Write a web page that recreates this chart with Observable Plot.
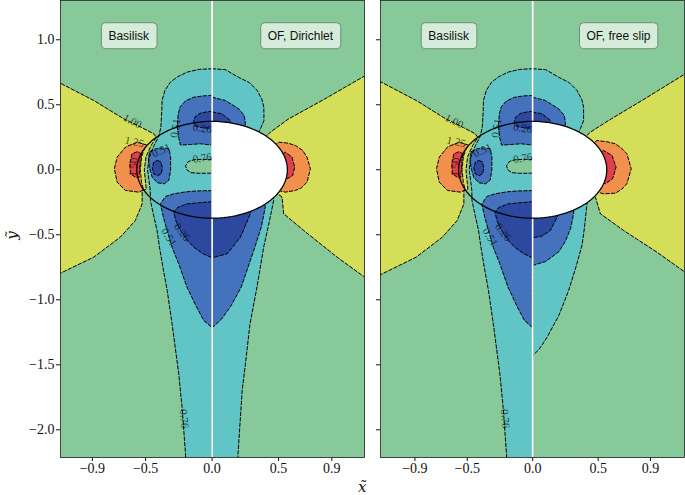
<!DOCTYPE html>
<html><head><meta charset="utf-8">
<script src="https://cdn.jsdelivr.net/npm/d3@7"></script>
<script src="https://cdn.jsdelivr.net/npm/@observablehq/plot@0.6"></script>
<style>
html,body{margin:0;padding:0;background:#fff;}
#fig{position:relative;width:685px;height:495px;overflow:hidden;background:#fff;}
#fig svg{position:absolute;top:0;}
#fig svg [aria-label^="x-axis"] text, #fig svg [aria-label^="y-axis"] text{font-family:"Liberation Serif" !important;font-size:14px;}
.axlab{position:absolute;font-family:"DejaVu Serif";font-style:italic;font-size:15px;color:#111;line-height:1;padding:2px;}
</style></head><body><div id="fig"></div>
<script>
// ---------- tick values ----------
const xTicks = [-0.9, -0.5, 0, 0.5, 0.9];
const yTicks = [-2.0, -1.5, -1.0, -0.5, 0.0, 0.5, 1.0];

// ---------- digitised contour regions (data units) ----------
// Basilisk half (x<0), identical in both panels
const basYellow = [[-1.17,0.681],[-0.89,0.533],[-0.665,0.392],[-0.53,0.325],[-0.439,0.277],[-0.42,0.25],[-0.46,0.185],[-0.497,0.1],[-0.51,0],[-0.5,-0.1],[-0.495,-0.15],[-0.526,-0.159],[-0.526,-0.262],[-0.577,-0.39],[-0.69,-0.518],[-0.89,-0.672],[-1.17,-0.81],[-1.4,-0.81],[-1.4,0.681]];
const basOrange = [[-0.49,0.19],[-0.564,0.212],[-0.652,0.174],[-0.714,0.097],[-0.735,0.008],[-0.714,-0.095],[-0.652,-0.159],[-0.552,-0.172],[-0.515,-0.155],[-0.53,-0.1],[-0.54,0],[-0.53,0.1],[-0.51,0.16]];
const basRed = [[-0.53,0.12],[-0.56,0.14],[-0.602,0.123],[-0.619,0.046],[-0.614,-0.031],[-0.577,-0.057],[-0.55,-0.06],[-0.545,0],[-0.54,0.08]];
const basCyan = [[0,0.777],[-0.1,0.772],[-0.188,0.751],[-0.26,0.715],[-0.314,0.674],[-0.355,0.61],[-0.376,0.533],[-0.378,0.46],[-0.385,0.33],[-0.4,0.26],[-0.44,0.18],[-0.475,0.09],[-0.485,0],[-0.475,-0.08],[-0.465,-0.16],[-0.464,-0.236],[-0.44,-0.35],[-0.414,-0.467],[-0.395,-0.6],[-0.37,-0.75],[-0.338,-0.928],[-0.301,-1.185],[-0.251,-1.569],[-0.226,-1.826],[-0.2,-2.185],[-0.197,-2.4],[0,-2.4]];
const basGreenIsland = [[0,0.08],[-0.07,0.08],[-0.138,0.077],[-0.18,0.062],[-0.2,0.03],[-0.19,0.0],[-0.16,-0.022],[-0.1,-0.027],[0,-0.026]];
const basBlueTop = [[0,0.572],[-0.07,0.568],[-0.138,0.558],[-0.2,0.53],[-0.24,0.485],[-0.255,0.43],[-0.262,0.33],[-0.25,0.24],[-0.238,0.19],[-0.16,0.195],[-0.088,0.2],[0,0.19]];
const basDarkTop = [[0,0.45],[-0.04,0.445],[-0.09,0.435],[-0.13,0.405],[-0.14,0.37],[-0.125,0.335],[-0.06,0.322],[0,0.32]];
const basBlueBlob = [[-0.469,0.14],[-0.43,0.16],[-0.37,0.168],[-0.325,0.162],[-0.312,0.1],[-0.312,0.0],[-0.325,-0.08],[-0.36,-0.108],[-0.41,-0.1],[-0.45,-0.06],[-0.472,0.02],[-0.478,0.09]];
const basDarkBlob = [[-0.41,0.072],[-0.385,0.06],[-0.374,0.015],[-0.382,-0.03],[-0.41,-0.046],[-0.44,-0.03],[-0.45,0.015],[-0.438,0.06]];
const basBlueLow = [[0,-0.16],[-0.12,-0.163],[-0.2,-0.17],[-0.289,-0.185],[-0.35,-0.205],[-0.389,-0.262],[-0.365,-0.37],[-0.338,-0.467],[-0.3,-0.6],[-0.251,-0.723],[-0.19,-0.9],[-0.12,-1.05],[-0.063,-1.159],[0,-1.215]];
const basDarkLow = [[0,-0.245],[-0.188,-0.262],[-0.26,-0.29],[-0.289,-0.326],[-0.27,-0.4],[-0.238,-0.467],[-0.19,-0.54],[-0.138,-0.595],[-0.07,-0.645],[0,-0.677]];

// OpenFOAM, Dirichlet (right half of left panel)
const dirYellow = [[1.4,0.725],[1.153,0.725],[0.827,0.533],[0.576,0.392],[0.438,0.289],[0.4,0.25],[0.3,0.15],[0.3,-0.15],[0.5,-0.19],[0.526,-0.21],[0.538,-0.338],[0.689,-0.467],[0.94,-0.672],[1.147,-0.826],[1.4,-0.826]];
const dirOrange = [[0.45,0.1],[0.48,0.195],[0.501,0.212],[0.57,0.205],[0.626,0.187],[0.68,0.15],[0.714,0.097],[0.739,0.008],[0.714,-0.095],[0.67,-0.14],[0.626,-0.159],[0.551,-0.172],[0.5,-0.16],[0.45,-0.1]];
const dirRed = [[0.5,0.1],[0.551,0.135],[0.601,0.097],[0.621,0.02],[0.606,-0.044],[0.564,-0.069],[0.5,-0.05]];
const dirCyanTop = [[0,0.777],[0.1,0.77],[0.198,0.712],[0.28,0.67],[0.339,0.61],[0.375,0.54],[0.389,0.482],[0.39,0.379],[0.364,0.315],[0.3,0.2],[0,0.2]];
const dirBlueTop = [[0,0.558],[0.1,0.533],[0.2,0.469],[0.24,0.42],[0.25,0.366],[0.24,0.2],[0,0.2]];
const dirDarkTop = [[0,0.445],[0.073,0.431],[0.137,0.379],[0.15,0.3],[0,0.3]];
const dirCyanLow = [[0,-0.2],[0.45,-0.15],[0.463,-0.236],[0.43,-0.4],[0.388,-0.595],[0.338,-0.9],[0.285,-1.185],[0.25,-1.5],[0.226,-1.7],[0.195,-2.185],[0.19,-2.4],[0,-2.4]];
const dirBlueLow = [[0,-0.2],[0.38,-0.2],[0.4,-0.287],[0.37,-0.44],[0.32,-0.6],[0.22,-0.9],[0.14,-1.05],[0.07,-1.15],[0,-1.215]];
const dirDarkLow = [[0,-0.2],[0.27,-0.2],[0.288,-0.338],[0.213,-0.518],[0.113,-0.646],[0,-0.677]];

// OpenFOAM, free slip (right half of right panel)
const fsYellow = [[1.4,0.738],[1.166,0.738],[0.835,0.533],[0.58,0.379],[0.44,0.289],[0.4,0.25],[0.3,0.15],[0.3,-0.15],[0.46,-0.2],[0.479,-0.21],[0.517,-0.338],[0.695,-0.467],[0.95,-0.634],[1.165,-0.788],[1.4,-0.788]];
const fsOrange = [[0.44,0.1],[0.47,0.21],[0.491,0.225],[0.57,0.215],[0.631,0.2],[0.68,0.165],[0.72,0.123],[0.753,0.008],[0.72,-0.108],[0.68,-0.15],[0.631,-0.18],[0.542,-0.185],[0.49,-0.17],[0.44,-0.1]];
const fsRed = [[0.5,0.12],[0.542,0.148],[0.606,0.11],[0.637,0.02],[0.611,-0.069],[0.555,-0.108],[0.5,-0.08]];
const fsCyanTop = [[0,0.777],[0.1,0.77],[0.198,0.712],[0.28,0.67],[0.339,0.61],[0.375,0.54],[0.389,0.482],[0.389,0.379],[0.364,0.315],[0.3,0.2],[0,0.2]];
const fsBlueTop = [[0,0.558],[0.097,0.533],[0.198,0.469],[0.24,0.42],[0.25,0.366],[0.24,0.2],[0,0.2]];
const fsDarkTop = [[0,0.443],[0.072,0.431],[0.135,0.379],[0.15,0.3],[0,0.3]];
const fsCyanLow = [[0,-0.2],[0.42,-0.2],[0.415,-0.262],[0.395,-0.45],[0.377,-0.58],[0.33,-0.75],[0.275,-0.928],[0.2,-1.12],[0.11,-1.288],[0.05,-1.38],[0,-1.43]];
const fsBlueLow = [[0,-0.2],[0.31,-0.2],[0.313,-0.338],[0.29,-0.45],[0.25,-0.55],[0.2,-0.63],[0.1,-0.705],[0,-0.736]];
const fsDarkLow = [[0,-0.2],[0.2,-0.2],[0.2,-0.33],[0.186,-0.365],[0.135,-0.467],[0.07,-0.51],[0,-0.523]];

// body (ellipse) semi-axes
const bodyA = 0.566, bodyB = 0.372;

// contour labels (Basilisk half)
const labelText  = ["1.00", "1.25", "1.50", "0.51", "0.51", "0.51", "0.26", "0.76", "0.26", "0.76"];
const labelX     = [-0.60, -0.584, -0.59, -0.383, -0.276, -0.326, -0.226, -0.21, -0.003, -0.003];
const labelY     = [0.374, 0.214, 0.02, 0.148, 0.32, -0.518, -0.48, -1.915, 0.308, 0.10];
const labelAngle = [27, 12, -85, -25, -80, 58, 52, 85, 8, -8];
const labelEnd   = [false, false, false, false, false, false, false, false, true, true];

// panel annotations
const boxTextDir = ["Basilisk", "OF, Dirichlet"];
const boxXDir = [-0.627, 0.664];
const boxTextFs = ["Basilisk", "OF, free slip"];
const boxXFs = [-0.643, 0.656];
const boxY = 1.03;

// ---------- styling ----------
const col = {dark: "#2c489f", blue: "#4472bd", cyan: "#60c5c4", green: "#88c999", yellow: "#d4de58", orange: "#f2904e", red: "#e0404c"};
const fmt = d3.format(".1f");
const yDomain = [-2.213, 1.302];

function rowsOf(list) {
  return list.flatMap(([id, level, pts]) => pts.map(([x, y]) => ({id, x, y, fill: col[level]})));
}
function ellipsePts(half) {
  const n = 120;
  const a0 = half ? -Math.PI / 2 : 0, a1 = half ? Math.PI / 2 : 2 * Math.PI;
  return d3.range(n + 1).map(i => {
    const t = a0 + (a1 - a0) * i / n;
    return {x: bodyA * Math.cos(t), y: bodyB * Math.sin(t)};
  });
}

const basList = [
  ["bY", "yellow", basYellow], ["bO", "orange", basOrange], ["bR", "red", basRed],
  ["bC", "cyan", basCyan], ["bG", "green", basGreenIsland],
  ["bBT", "blue", basBlueTop], ["bBB", "blue", basBlueBlob], ["bBL", "blue", basBlueLow],
  ["bDT", "dark", basDarkTop], ["bDB", "dark", basDarkBlob], ["bDL", "dark", basDarkLow]
];
const dirList = [
  ["dY", "yellow", dirYellow], ["dO", "orange", dirOrange], ["dR", "red", dirRed],
  ["dCT", "cyan", dirCyanTop], ["dCL", "cyan", dirCyanLow],
  ["dBT", "blue", dirBlueTop], ["dBL", "blue", dirBlueLow],
  ["dDT", "dark", dirDarkTop], ["dDL", "dark", dirDarkLow]
];
const fsList = [
  ["fY", "yellow", fsYellow], ["fO", "orange", fsOrange], ["fR", "red", fsRed],
  ["fCT", "cyan", fsCyanTop], ["fCL", "cyan", fsCyanLow],
  ["fBT", "blue", fsBlueTop], ["fBL", "blue", fsBlueLow],
  ["fDT", "dark", fsDarkTop], ["fDL", "dark", fsDarkLow]
];
const order = ["yellow", "orange", "red", "cyan", "green", "blue", "dark"];
function sorted(list) {
  return list.slice().sort((a, b) => order.indexOf(a[1]) - order.indexOf(b[1]));
}

const labels = labelText.map((t, i) => ({text: t, x: labelX[i], y: labelY[i], rotate: labelAngle[i], end: labelEnd[i]}));

function panel({width, ml, mr, xdom, ylabels, ofList, boxText, boxX}) {
  const rows = rowsOf(sorted(basList.concat(ofList)));
  const boxes = boxText.map((t, i) => ({text: t, x: boxX[i], y: boxY}));
  return Plot.plot({
    width, height: 495,
    marginLeft: ml, marginRight: mr, marginTop: 0, marginBottom: 38,
    x: {domain: xdom, ticks: xTicks, tickFormat: fmt, tickSize: 4, tickPadding: 2, label: null},
    y: {domain: yDomain, ticks: yTicks, tickFormat: ylabels ? fmt : () => "", tickSize: 4, tickPadding: 2, label: null},
    style: {fontFamily: "Liberation Serif", fontSize: "14px", color: "#111", background: "transparent", overflow: "visible"},
    marks: [
      Plot.frame({fill: col.green, stroke: "none"}),
      Plot.line(rows, {x: "x", y: "y", z: "id", fill: "fill", stroke: "none", curve: "linear-closed", clip: true}),
      Plot.line(rows, {x: "x", y: "y", z: "id", fill: "none", stroke: "#000", strokeWidth: 1, strokeDasharray: "3.5,2", curve: "linear-closed", clip: true}),
      Plot.line(ellipsePts(true), {x: "x", y: "y", fill: "white", stroke: "none", curve: "linear-closed"}),
      Plot.ruleX([0], {stroke: "white", strokeWidth: 1.7}),
      Plot.line(ellipsePts(false), {x: "x", y: "y", fill: "none", stroke: "#000", strokeWidth: 1.25, curve: "linear-closed"}),
      Plot.text(labels.filter(d => !d.end), {x: "x", y: "y", text: "text", rotate: "rotate", fontSize: 11, fontFamily: "Liberation Serif", fill: "#000", fillOpacity: 0.7}),
      Plot.text(labels.filter(d => d.end), {x: "x", y: "y", text: "text", rotate: "rotate", textAnchor: "end", fontSize: 11, fontFamily: "Liberation Serif", fill: "#000", fillOpacity: 0.7}),
      Plot.text(boxes, {x: "x", y: "y", text: "text", fontSize: 12, fontFamily: "Liberation Sans", fill: "#111", ariaLabel: "boxlabel"}),
      Plot.frame({stroke: "#1d1d1d", strokeWidth: 0.8})
    ]
  });
}

const fig = document.getElementById("fig");
const left = panel({width: 365, ml: 60, mr: 1, xdom: [-1.14, 1.146], ylabels: true, ofList: dirList, boxText: boxTextDir, boxX: boxXDir});
left.style.left = "0px";
const right = panel({width: 315, ml: 10, mr: 1, xdom: [-1.163, 1.16], ylabels: false, ofList: fsList, boxText: boxTextFs, boxX: boxXFs});
right.style.left = "370px";
fig.appendChild(left);
fig.appendChild(right);

// serif tick labels (fallback if the axis groups are not labelled)
[left, right].forEach(svg => {
  svg.querySelectorAll("text").forEach(t => {
    if (!t.closest('[aria-label="boxlabel"]') && !t.closest('[font-family="Liberation Sans"]')) {
      t.style.fontFamily = '"Liberation Serif"';
    }
  });
});

function addBoxes(svg) {
  let texts = svg.querySelectorAll('g[aria-label="boxlabel"] text');
  if (!texts.length) texts = svg.querySelectorAll('g[font-family="Liberation Sans"] text');
  texts.forEach(t => {
    t.style.fontFamily = '"Liberation Sans"';
    const b = t.getBBox();
    const r = document.createElementNS("http://www.w3.org/2000/svg", "rect");
    r.setAttribute("x", b.x - 7);
    r.setAttribute("y", b.y - 6);
    r.setAttribute("width", b.width + 14);
    r.setAttribute("height", b.height + 12);
    r.setAttribute("rx", 4);
    r.setAttribute("fill", "#d4ecd9");
    r.setAttribute("fill-opacity", 1);
    r.setAttribute("stroke", "#6f8f79");
    r.setAttribute("stroke-width", 1);
    const tr = t.getAttribute("transform");
    if (tr) r.setAttribute("transform", tr);
    t.parentNode.insertBefore(r, t);
  });
}
addBoxes(left);
addBoxes(right);

const xl = document.createElement("div");
xl.className = "axlab";
xl.textContent = "x\u0303";
xl.style.left = "356px"; xl.style.top = "478px";
fig.appendChild(xl);
const yl = document.createElement("div");
yl.className = "axlab";
yl.textContent = "y\u0303";
yl.style.left = "6px"; yl.style.top = "226px";
yl.style.transform = "rotate(-90deg)";
fig.appendChild(yl);
</script></body></html>
